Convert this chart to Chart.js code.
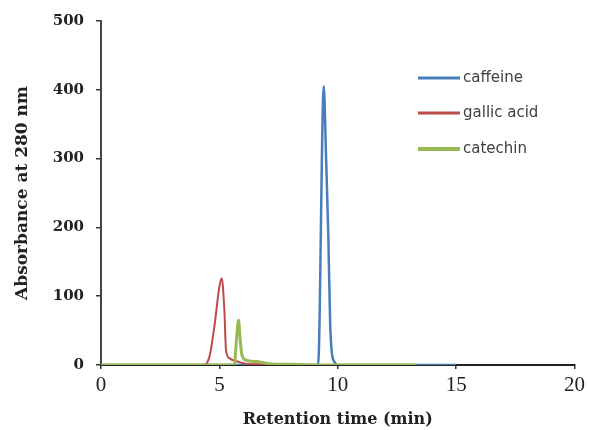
<!DOCTYPE html>
<html>
<head>
<meta charset="utf-8">
<script src="https://cdn.jsdelivr.net/npm/chart.js@4"></script>
<style>
  body { margin: 0; background: #fff; }
  canvas { display: block; }
</style>
</head>
<body>
<canvas id="c" width="589" height="430"></canvas>
<script>
// retention time (min) / absorbance
const caffeineTime = [0, 9.17, 9.41, 9.5, 9.6, 9.68, 9.75, 9.85, 10, 15]
const caffeineAbs  = [0, 0,    405,  310, 190, 60,   18,   5,    0,  0]

const gallicTime = [0, 4.3, 4.58, 4.79, 5.0, 5.1, 5.21, 5.28, 5.42, 5.76, 6.1, 7.1, 8, 12]
const gallicAbs  = [0, 0,   12,   56,   114, 126, 80,   22,   10,   5,    2,   1,   0, 0]

const catechinTime = [0, 5.63, 5.73, 5.81, 5.88, 5.95, 6.12, 6.54, 7.1, 8, 9, 13.3]
const catechinAbs  = [0, 0,    41,   65,   36,   15,   7,    5,    2,   1, 0, 0]

const seriesNames = ['caffeine', 'gallic acid', 'catechin']
const seriesColors = ['#4A7EBB', '#BE4B48', '#98B954']
const xTicks = [0, 5, 10, 15, 20]
const yTicks = [0, 100, 200, 300, 400, 500]

const pts = (t, v) => t.map((a, i) => ({x: a, y: v[i]}))

const line = (i, t, v, w, ord) => ({
    label: seriesNames[i],
    data: pts(t, v),
    borderColor: seriesColors[i],
    backgroundColor: seriesColors[i],
    borderWidth: w,
    borderJoinStyle: 'round',
    pointRadius: 0,
    fill: false,
    cubicInterpolationMode: 'monotone',
    order: ord,
})

// legend drawn inside the plot, like the original
const sideLegend = {
    id: 'sideLegend',
    afterDraw: c => {
        const g = c.ctx
        const rows = [78, 113, 149]
        g.save()
        seriesNames.forEach((n, i) => {
            g.strokeStyle = seriesColors[i]
            g.lineWidth = i == 2 ? 4 : 3
            g.beginPath()
            g.moveTo(418, rows[i])
            g.lineTo(460, rows[i])
            g.stroke()
            g.fillStyle = '#404040'
            g.font = '15px "DejaVu Sans"'
            g.textBaseline = 'middle'
            g.fillText(n, 463, rows[i])
        })
        g.restore()
    }
}

new Chart(document.getElementById('c'), {
    type: 'line',
    data: {
        datasets: [
            line(0, caffeineTime, caffeineAbs, 2.5, 2),
            line(1, gallicTime, gallicAbs, 2, 1),
            line(2, catechinTime, catechinAbs, 3, 0),
        ]
    },
    options: {
        responsive: false,
        animation: false,
        devicePixelRatio: 1,
        layout: { padding: { top: 21, right: 12, left: 0, bottom: 0 } },
        plugins: {
            legend: { display: false },
            tooltip: { enabled: false },
        },
        scales: {
            x: {
                type: 'linear',
                min: 0,
                max: 20,
                afterBuildTicks: s => { s.ticks = xTicks.map(v => ({value: v})) },
                afterFit: s => { s.height = 65 },
                grid: { drawOnChartArea: false, drawTicks: true, tickLength: 4, color: '#333', lineWidth: 1.5 },
                border: { display: true, color: '#222', width: 2 },
                ticks: { color: '#222', padding: 4, maxRotation: 0, font: { family: '"Liberation Serif"', size: 21 } },
                title: {
                    display: true,
                    text: 'Retention time (min)',
                    color: '#222',
                    padding: { top: 0, bottom: 1 },
                    font: { family: '"DejaVu Serif"', size: 16, weight: 'bold' },
                },
            },
            y: {
                min: 0,
                max: 500,
                afterBuildTicks: s => { s.ticks = yTicks.map(v => ({value: v})) },
                afterFit: s => { s.width = 101 },
                grid: { drawOnChartArea: false, drawTicks: true, tickLength: 5, color: '#333', lineWidth: 1.5 },
                border: { display: true, color: '#444', width: 2 },
                ticks: { color: '#222', padding: 12, font: { family: '"DejaVu Serif"', size: 15, weight: 'bold' } },
                title: {
                    display: true,
                    text: 'Absorbance at 280 nm',
                    color: '#222',
                    padding: { top: 12, bottom: 0 },
                    font: { family: '"DejaVu Serif"', size: 17, weight: 'bold' },
                },
            },
        },
    },
    plugins: [sideLegend],
})
</script>
</body>
</html>
